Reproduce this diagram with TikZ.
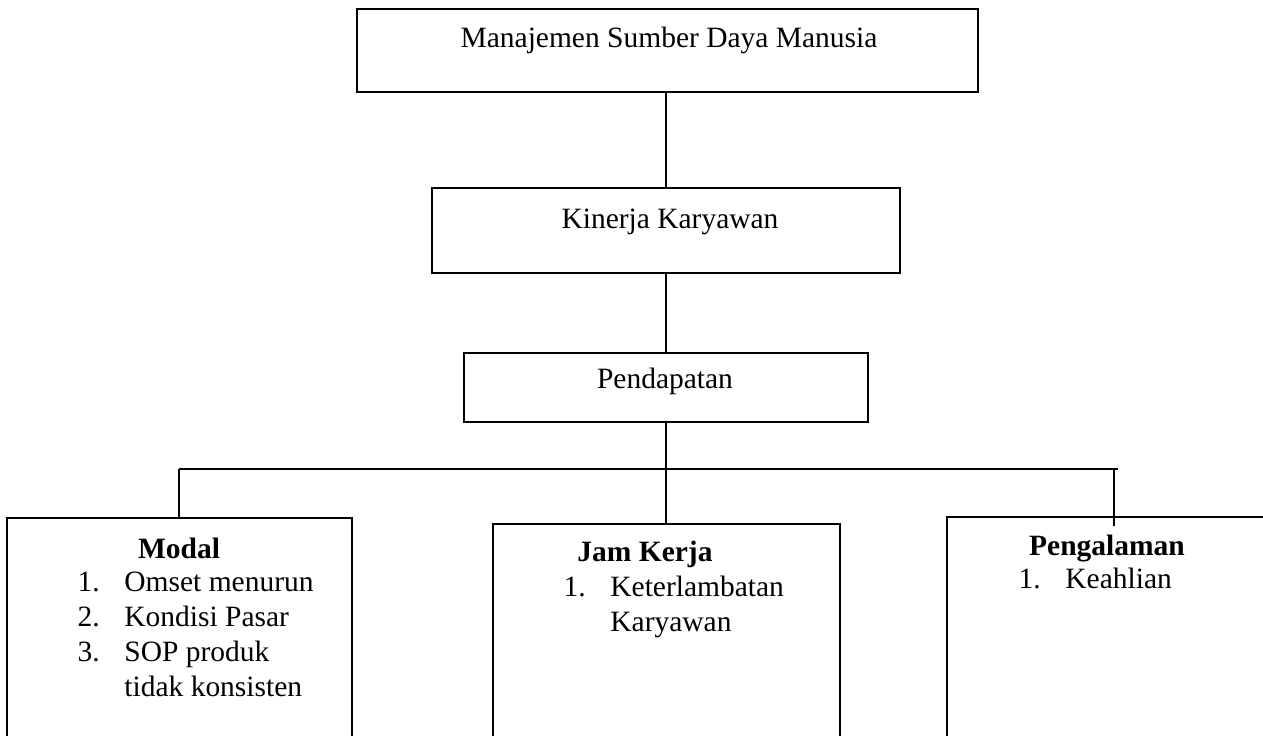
\documentclass[tikz,border=0pt]{standalone}
\usepackage{fontspec}
\setmainfont{Liberation Serif}
\usetikzlibrary{fit}
\newcommand{\numcol}{19pt}
\begin{document}
\begin{tikzpicture}[x=0.407pt,y=-0.407pt,line width=0.6pt,
  box/.style={draw,rectangle,inner sep=0pt},
  txt/.style={inner sep=0pt,anchor=base,font=\fontsize{12}{14.3}\selectfont},
  hd/.style={txt,font=\fontsize{12}{14.3}\selectfont\bfseries},
  lst/.style={txt,anchor=base west}]
\useasboundingbox (0,0) rectangle (1263,735);
\clip (0,0) rectangle (1263,735);
\node[box,fit={(357,9) (978,92)}] (msdm) {};
\node[box,fit={(432,188) (900,273)}] (kinerja) {};
\node[box,fit={(464,353) (868,422)}] (pendapatan) {};
\node[box,fit={(7,518) (352,760)}] (modal) {};
\node[box,fit={(493,524) (840,760)}] (jam) {};
\node[box,fit={(947,517) (1290,760)}] (pengalaman) {};
\node[txt] (tmsdm) at (669,47) {Manajemen Sumber Daya Manusia};
\node[txt] (tkinerja) at (670,228) {Kinerja Karyawan};
\node[txt] (tpendapatan) at (665,388) {Pendapatan};
\node[hd] (tmodal) at (179,558) {Modal};
\node[lst] (lmodal) at (77,591) {\begin{tabular}[t]{@{}p{\numcol}@{}l@{}}
1.&Omset menurun\\2.&Kondisi Pasar\\3.&SOP produk\\&tidak konsisten\end{tabular}};
\node[hd] (tjam) at (645,561) {Jam Kerja};
\node[lst] (ljam) at (563,596) {\begin{tabular}[t]{@{}p{\numcol}@{}l@{}}
1.&Keterlambatan\\&Karyawan\end{tabular}};
\node[hd] (tpengalaman) at (1107,555) {Pengalaman};
\node[lst] (lpengalaman) at (1018,588) {\begin{tabular}[t]{@{}p{\numcol}@{}l@{}}
1.&Keahlian\end{tabular}};
\coordinate (busL) at (179,469);
\coordinate (busM) at (666,469);
\coordinate (busR) at (1118,469);
\coordinate (busP) at (1114,469);
\coordinate (tickP) at (1114,526);
\draw (kinerja.north) -- (kinerja.north |- msdm.south);
\draw (pendapatan.north) -- (pendapatan.north |- kinerja.south);
\draw (pendapatan.south) -- (busM);
\draw (busL) -- (busR);
\draw (busL) -- (busL |- modal.north);
\draw (busM) -- (busM |- jam.north);
\draw (busP) -- (tickP);
\end{tikzpicture}
\end{document}
